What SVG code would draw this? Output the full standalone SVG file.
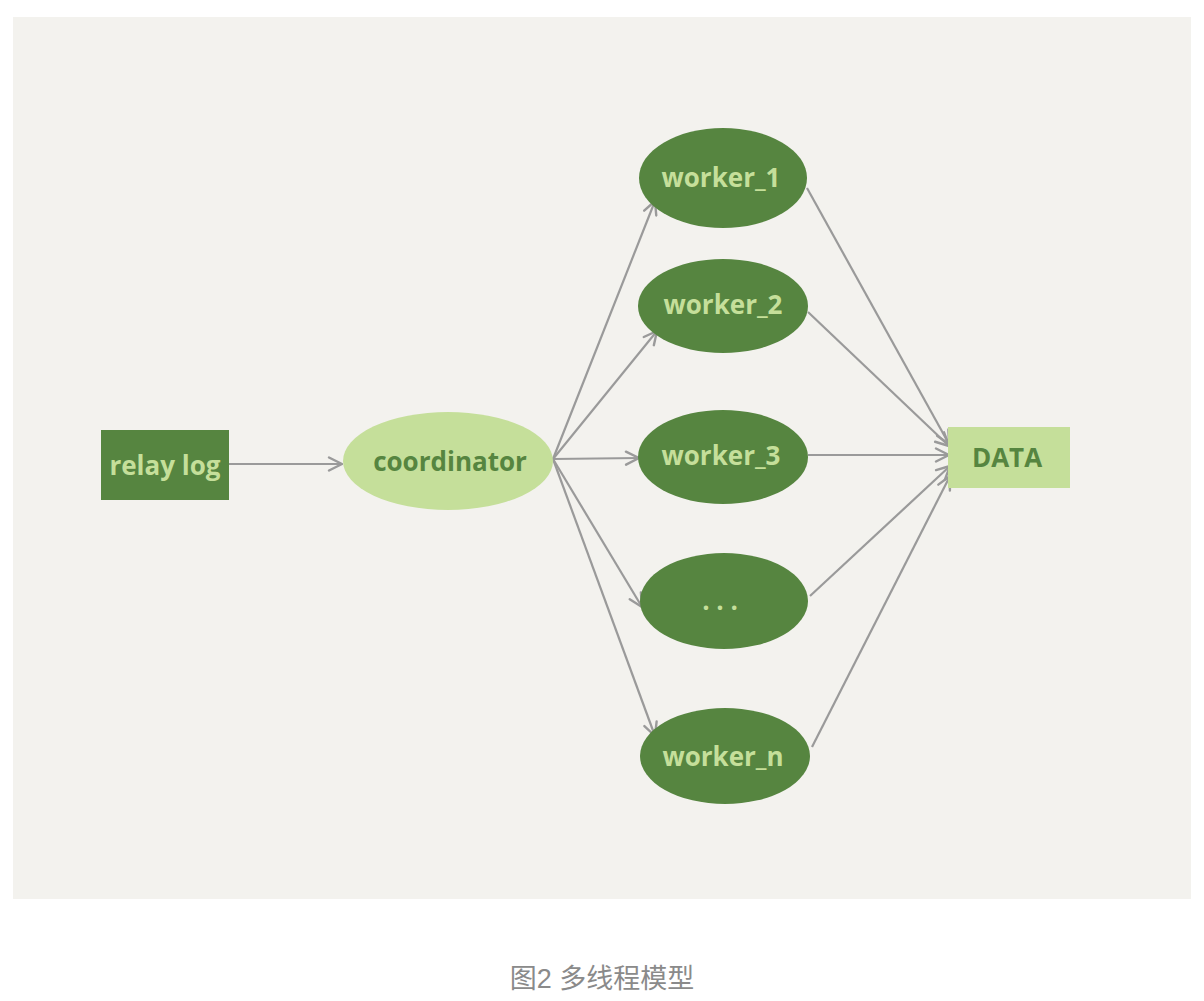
<svg xmlns="http://www.w3.org/2000/svg" width="1204" height="1001" viewBox="0 0 1204 1001">
<defs>
<marker id="arr" viewBox="0 0 16 16" refX="15" refY="8" markerWidth="16" markerHeight="16" markerUnits="userSpaceOnUse" orient="auto">
<path d="M2,1.5 L15,8 L2,14.5" fill="none" stroke="#9a9a9a" stroke-width="2.4" stroke-linecap="round" stroke-linejoin="round"/>
</marker>
<style>
.dark{fill:#568540}
.light{fill:#c5df9a}
.tl{font-family:"Open Sans","Liberation Sans",sans-serif;font-weight:700;font-size:26px;fill:#c5df9a;text-anchor:middle;dominant-baseline:central}
.td{font-family:"Open Sans","Liberation Sans",sans-serif;font-weight:700;font-size:26px;fill:#568540;text-anchor:middle;dominant-baseline:central}
.edge{fill:none;stroke:#9a9a9a;stroke-width:2.2;marker-end:url(#arr)}
</style>
</defs>
<rect x="0" y="0" width="1204" height="1001" fill="#ffffff"/>
<rect x="13" y="17" width="1178" height="882" fill="#f3f2ee"/>
<g id="connectors">
<line class="edge" x1="229" y1="464" x2="342" y2="464"/>
<line class="edge" x1="553" y1="459" x2="655" y2="201"/>
<line class="edge" x1="553" y1="459" x2="657" y2="331"/>
<line class="edge" x1="553" y1="459" x2="639" y2="458"/>
<line class="edge" x1="553" y1="459" x2="642" y2="607"/>
<line class="edge" x1="553" y1="459" x2="655" y2="736"/>
<line class="edge" x1="807" y1="188" x2="949" y2="444"/>
<line class="edge" x1="808" y1="312" x2="949" y2="446"/>
<line class="edge" x1="808" y1="455" x2="949" y2="455"/>
<line class="edge" x1="810" y1="596" x2="950" y2="466"/>
<line class="edge" x1="812" y1="747" x2="950" y2="476"/>
</g>
<g id="relaylog">
<rect class="dark" x="101" y="430" width="128" height="70"/>
<text class="tl" x="165" y="465">relay log</text>
</g>
<g id="coordinator">
<ellipse class="light" cx="448" cy="461" rx="105" ry="49"/>
<text class="td" x="450" y="461">coordinator</text>
</g>
<g id="worker1">
<ellipse class="dark" cx="723" cy="178" rx="84" ry="50"/>
<text class="tl" x="721" y="177">worker_1</text>
</g>
<g id="worker2">
<ellipse class="dark" cx="723" cy="306" rx="85" ry="47"/>
<text class="tl" x="723" y="304">worker_2</text>
</g>
<g id="worker3">
<ellipse class="dark" cx="723" cy="457" rx="85" ry="47"/>
<text class="tl" x="721" y="455">worker_3</text>
</g>
<g id="workerdots">
<ellipse class="dark" cx="724" cy="601" rx="84" ry="48"/>
<text class="tl" x="720" y="600">. . .</text>
</g>
<g id="workern">
<ellipse class="dark" cx="725" cy="756" rx="85" ry="48"/>
<text class="tl" x="723" y="756">worker_n</text>
</g>
<g id="data">
<rect class="light" x="948" y="427" width="122" height="61"/>
<text class="td" x="1007" y="457">DATA</text>
</g>
<text x="602" y="979" font-family="'Liberation Sans','Noto Sans CJK SC',sans-serif" font-size="27" fill="#8a8a8a" text-anchor="middle" dominant-baseline="central">图2 多线程模型</text>
</svg>
